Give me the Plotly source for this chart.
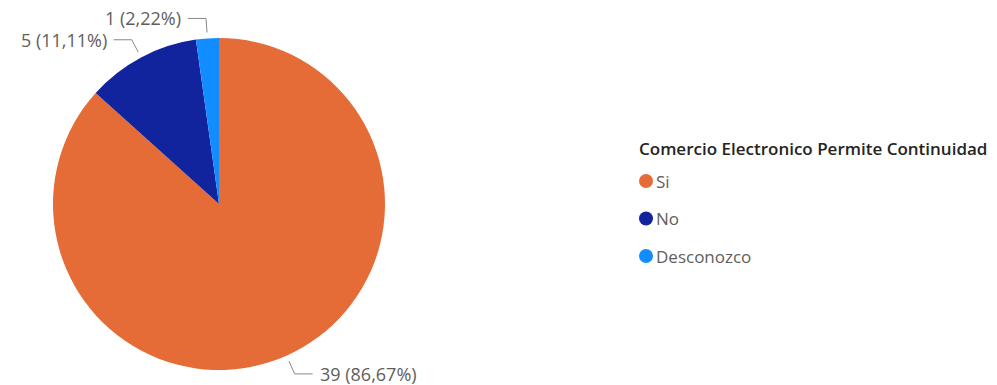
import math
import plotly.graph_objects as go

# Data
categories = ["Si", "No", "Desconozco"]
counts = [39, 5, 1]
colors = ["#E66C37", "#12239E", "#118DFF"]
legend_title = "Comercio Electronico Permite Continuidad"

# Canvas and pie geometry (pixels)
W, H = 997, 385
CX, CY, R = 219, 204, 166
LABEL_COLOR = "#605E5C"
FONT = "Open Sans, Noto Sans, sans-serif"

total = sum(counts)
pcts = [c / total * 100 for c in counts]
labels = [f"{c} ({p:.2f}%)".replace(".", ",") for c, p in zip(counts, pcts)]

fig = go.Figure()

fig.add_trace(go.Pie(
    labels=categories,
    values=counts,
    sort=False,
    direction="clockwise",
    rotation=0,
    marker=dict(colors=colors, line=dict(width=0)),
    textinfo="none",
    hoverinfo="label+value+percent",
    domain=dict(x=[(CX - R) / W, (CX + R) / W],
                y=[1 - (CY + R) / H, 1 - (CY - R) / H]),
    showlegend=False,
))

# Leader lines and outside labels, placed at each slice's mid-angle
annotations = []
cum = 0.0
for cnt, lab in zip(counts, labels):
    mid = (cum + cnt / 2) / total * 2 * math.pi  # clockwise from 12 o'clock
    cum += cnt
    dx, dy = math.sin(mid), -math.cos(mid)
    side = 1 if dx >= 0 else -1
    x0, y0 = CX + (R + 6) * dx, CY + (R + 6) * dy
    x1, y1 = CX + (R + 20) * dx, CY + (R + 20) * dy
    x2 = x1 + side * 18
    fig.add_trace(go.Scatter(
        x=[x0, x1, x2], y=[y0, y1, y1], mode="lines",
        line=dict(color="#8A8886", width=1),
        hoverinfo="skip", showlegend=False,
    ))
    annotations.append(dict(
        x=x2 + side * 5, y=y1, xref="x", yref="y", text=lab, showarrow=False,
        xanchor="left" if side > 0 else "right", yanchor="middle",
        font=dict(family=FONT, size=18, color=LABEL_COLOR),
    ))

# Legend: title, circle swatches and category names
LEG_X, LEG_TITLE_Y, LEG_Y0, LEG_STEP = 646, 148, 181, 37.5
leg_y = [LEG_Y0 + i * LEG_STEP for i in range(len(categories))]
fig.add_trace(go.Scatter(
    x=[LEG_X] * len(categories), y=leg_y, mode="markers",
    marker=dict(color=colors, size=14, symbol="circle"),
    hoverinfo="skip", showlegend=False,
))
annotations.append(dict(
    x=LEG_X - 9, y=LEG_TITLE_Y, xref="x", yref="y", text=legend_title,
    showarrow=False, xanchor="left", yanchor="middle",
    font=dict(family=FONT, size=17, color="#252423", weight=600),
))
for cat, y in zip(categories, leg_y):
    annotations.append(dict(
        x=LEG_X + 8, y=y, xref="x", yref="y", text=cat, showarrow=False,
        xanchor="left", yanchor="middle",
        font=dict(family=FONT, size=17, color=LABEL_COLOR),
    ))

fig.update_layout(
    width=W, height=H,
    margin=dict(l=0, r=0, t=0, b=0),
    paper_bgcolor="white", plot_bgcolor="rgba(0,0,0,0)",
    xaxis=dict(range=[0, W], visible=False, fixedrange=True),
    yaxis=dict(range=[H, 0], visible=False, fixedrange=True),
    annotations=annotations,
    showlegend=False,
)

fig.write_html("out.html")
